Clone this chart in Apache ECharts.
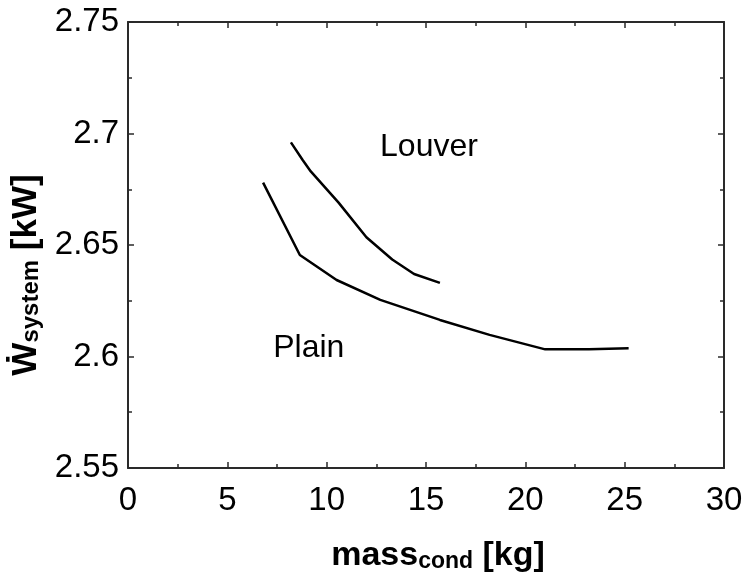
<!DOCTYPE html>
<html>
<head>
<meta charset="utf-8">
<script src="https://cdn.jsdelivr.net/npm/echarts@6/dist/echarts.min.js"></script>
<style>
  html, body { margin: 0; padding: 0; background: #fff; }
  #chart { width: 744px; height: 573px; }
</style>
</head>
<body>
<div id="chart"></div>
<script>
// System power versus condenser mass for the two fin types
const plainMass  = [6.8, 8.65, 10.5, 12.7, 15.7, 18.2, 21.0, 23.2, 23.2, 25.2];
const plainPower = [2.678, 2.6455, 2.6343, 2.6254, 2.6164, 2.6097, 2.6032, 2.6032, 2.6037, 2.6037];

const louverMass  = [8.2, 8.8, 9.2, 10.6, 12.0, 13.3, 14.4, 15.7];
const louverPower = [2.696, 2.688, 2.683, 2.669, 2.6535, 2.6435, 2.637, 2.633];

// Curve names placed next to each curve (data coordinates)
const curveLabels = [
  [15.15, 2.694, 'Louver'],
  [9.1, 2.6036, 'Plain']
];

const xTicks = { min: 0, max: 30, step: 5 };
const yTicks = { min: 2.55, max: 2.75, step: 0.05 };

const FONT = '"Liberation Sans", Arial, "DejaVu Sans", sans-serif';
const AXIS_COLOR = '#2a2a2a';

const pairs = (xs, ys) => xs.map((x, i) => [x, ys[i]]);

const frameAxis = {
  axisLine: { show: true, onZero: false, lineStyle: { color: AXIS_COLOR, width: 2 } },
  axisTick: { show: true, inside: true, length: 6, lineStyle: { color: AXIS_COLOR, width: 1.5 } },
  minorTick: { show: true, splitNumber: 2, length: 4, lineStyle: { color: AXIS_COLOR, width: 1.5 } },
  splitLine: { show: false },
  minorSplitLine: { show: false }
};

const chart = echarts.init(document.getElementById('chart'), null, { renderer: 'canvas' });

chart.setOption({
  animation: false,
  backgroundColor: '#ffffff',
  grid: { left: 128, right: 20, top: 22, bottom: 105, containLabel: false, outerBoundsMode: 'none' },
  xAxis: [
    Object.assign({
      type: 'value', position: 'bottom',
      min: xTicks.min, max: xTicks.max, interval: xTicks.step,
      axisLabel: { fontFamily: FONT, fontSize: 33, color: '#000', margin: 16, lineHeight: 33 },
      name: '{m|mass}{s|cond}{m| [kg]}',
      nameLocation: 'middle',
      nameGap: 71,
      nameTextStyle: {
        padding: [0, 0, 0, 24],
        rich: {
          m: { fontFamily: FONT, fontWeight: 'bold', fontSize: 34, lineHeight: 34, color: '#000' },
          s: { fontFamily: FONT, fontWeight: 'bold', fontSize: 23, lineHeight: 19, verticalAlign: 'bottom', color: '#000' }
        }
      }
    }, frameAxis),
    Object.assign({
      type: 'value', position: 'top',
      min: xTicks.min, max: xTicks.max, interval: xTicks.step,
      axisLabel: { show: false }
    }, frameAxis)
  ],
  yAxis: [
    Object.assign({
      type: 'value', position: 'left',
      min: yTicks.min, max: yTicks.max, interval: yTicks.step,
      axisLabel: { fontFamily: FONT, fontSize: 33, color: '#000', margin: 9 },
      name: '{m|Ẇ}{s|system}{m| [kW]}',
      nameLocation: 'middle',
      nameGap: 77,
      nameRotate: 90,
      nameTextStyle: {
        padding: [0, 60, 0, 0],
        rich: {
          m: { fontFamily: FONT, fontWeight: 'bold', fontSize: 35, lineHeight: 35, color: '#000' },
          s: { fontFamily: FONT, fontWeight: 'bold', fontSize: 24, lineHeight: 20, verticalAlign: 'bottom', color: '#000' }
        }
      }
    }, frameAxis),
    Object.assign({
      type: 'value', position: 'right',
      min: yTicks.min, max: yTicks.max, interval: yTicks.step,
      axisLabel: { show: false }
    }, frameAxis)
  ],
  series: [
    {
      name: 'Plain', type: 'line',
      data: pairs(plainMass, plainPower),
      showSymbol: false, symbol: 'none',
      lineStyle: { color: '#000', width: 2.5 },
      z: 3
    },
    {
      name: 'Louver', type: 'line',
      data: pairs(louverMass, louverPower),
      showSymbol: false, symbol: 'none',
      lineStyle: { color: '#000', width: 2.5 },
      z: 3
    },
    {
      name: 'labels', type: 'scatter',
      data: curveLabels,
      symbolSize: 0,
      silent: true,
      itemStyle: { opacity: 1 },
      label: {
        show: true, position: 'inside',
        formatter: p => p.value[2],
        fontFamily: FONT, fontSize: 32, color: '#000', opacity: 1,
        textBorderWidth: 0
      }
    }
  ]
});
</script>
</body>
</html>
